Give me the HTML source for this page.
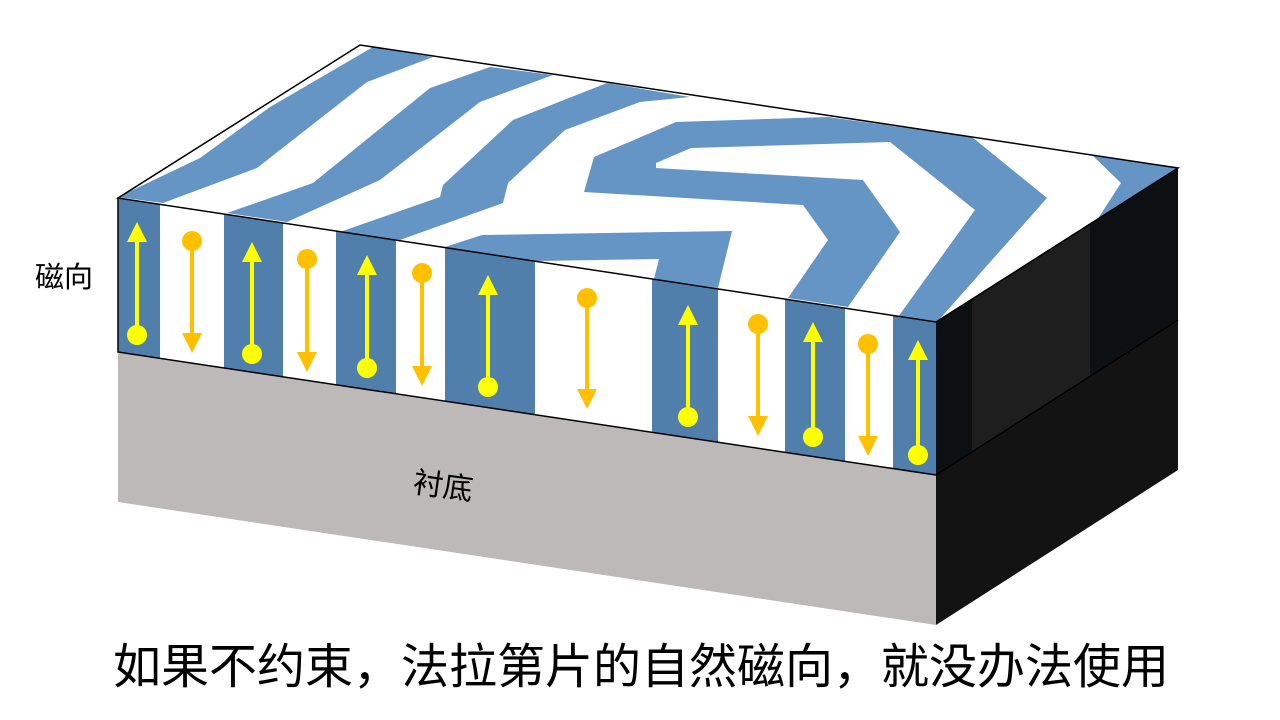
<!DOCTYPE html>
<html><head><meta charset="utf-8"><style>
html,body{margin:0;padding:0;background:#fff;width:1280px;height:720px;overflow:hidden}
svg{display:block}
text{font-family:"Liberation Sans","Noto Sans CJK SC",sans-serif;fill:#000}
</style></head><body>
<svg width="1280" height="720" viewBox="0 0 1280 720" xmlns="http://www.w3.org/2000/svg">
<defs>
<clipPath id="top"><polygon points="118,198 360,45 1178,168 936,322"/></clipPath>
<clipPath id="front"><polygon points="118,198 936,322 936,475 118,352"/></clipPath>
<clipPath id="rside"><polygon points="936,322 1178,168 1178,320 936,475"/></clipPath>
</defs>
<!-- substrate -->
<polygon points="118,352 936,475 936,625 118,502" fill="#bcb9b8"/>
<polygon points="936,475 1178,320 1178,470 936,625" fill="#131313"/>
<!-- right side of magnetic layer -->
<polygon points="936,322 1178,168 1178,320 936,475" fill="#0c1013"/>
<g clip-path="url(#rside)"><rect x="972" y="150" width="118" height="340" fill="#1e1e1e"/></g>
<line x1="936" y1="475" x2="1178" y2="320" stroke="#000" stroke-width="1.5"/>
<!-- top face -->
<polygon points="118,198 360,45 1178,168 936,322" fill="#fff"/>
<g clip-path="url(#top)" fill="#6595c4">
<polygon points="118,197 200,158 270,107 373,47 433,57 367,82 257,168 163,203"/>
<polygon points="490,67 430,88 313,183 227,213 287,222 380,180 480,102 553,75"/>
<polygon points="607,83 513,120 443,185 440,197 340,232 400,240 503,203 508,183 565,130 640,102 690,97"/>
<polygon points="584,192 594,157 676,122 828,117 972,137 1047,198 937,322 898,317 975,210 890,142 691,148 656,163 656,168 863,180 900,232 848,307 788,298 828,240 803,205"/>
<polygon points="445,247 482,235 732,231 718,288 654,279 659,259 537,261"/>
<polygon points="1092,155 1179,168 1097,220 1121,183"/>
</g>
<!-- front face -->
<polygon points="118,198 936,322 936,475 118,352" fill="#fff"/>
<g clip-path="url(#front)" fill="#517fab">
<rect x="118" y="190" width="42" height="300"/>
<rect x="224" y="190" width="59" height="300"/>
<rect x="336" y="190" width="60" height="300"/>
<rect x="445" y="190" width="90" height="300"/>
<rect x="652" y="190" width="66" height="300"/>
<rect x="785" y="190" width="60" height="300"/>
<rect x="893" y="190" width="43" height="300"/>
</g>
<!-- up arrows (yellow) -->
<g fill="#ffff00" stroke="#ffff00">
<line x1="137" y1="240" x2="137" y2="335" stroke-width="4"/><polygon points="137,222 127,242 147,242" stroke="none"/><circle cx="137" cy="335" r="10" stroke="none"/>
<line x1="252" y1="260" x2="252" y2="354" stroke-width="4"/><polygon points="252,242 242,262 262,262" stroke="none"/><circle cx="252" cy="354" r="10" stroke="none"/>
<line x1="367" y1="273" x2="367" y2="368" stroke-width="4"/><polygon points="367,255 357,275 377,275" stroke="none"/><circle cx="367" cy="368" r="10" stroke="none"/>
<line x1="488" y1="293" x2="488" y2="387" stroke-width="4"/><polygon points="488,275 478,295 498,295" stroke="none"/><circle cx="488" cy="387" r="10" stroke="none"/>
<line x1="688" y1="323" x2="688" y2="417" stroke-width="4"/><polygon points="688,305 678,325 698,325" stroke="none"/><circle cx="688" cy="417" r="10" stroke="none"/>
<line x1="813" y1="340" x2="813" y2="437" stroke-width="4"/><polygon points="813,322 803,342 823,342" stroke="none"/><circle cx="813" cy="437" r="10" stroke="none"/>
<line x1="918" y1="358" x2="918" y2="455" stroke-width="4"/><polygon points="918,340 908,360 928,360" stroke="none"/><circle cx="918" cy="455" r="10" stroke="none"/>
</g>
<!-- down arrows (orange) -->
<g fill="#ffc000" stroke="#ffc000">
<line x1="192" y1="241" x2="192" y2="335" stroke-width="4"/><circle cx="192" cy="241" r="10" stroke="none"/><polygon points="192,353 182,333 202,333" stroke="none"/>
<line x1="307" y1="259" x2="307" y2="354" stroke-width="4"/><circle cx="307" cy="259" r="10" stroke="none"/><polygon points="307,372 297,352 317,352" stroke="none"/>
<line x1="422" y1="273" x2="422" y2="368" stroke-width="4"/><circle cx="422" cy="273" r="10" stroke="none"/><polygon points="422,386 412,366 432,366" stroke="none"/>
<line x1="587" y1="298" x2="587" y2="391" stroke-width="4"/><circle cx="587" cy="298" r="10" stroke="none"/><polygon points="587,409 577,389 597,389" stroke="none"/>
<line x1="758" y1="324" x2="758" y2="418" stroke-width="4"/><circle cx="758" cy="324" r="10" stroke="none"/><polygon points="758,436 748,416 768,416" stroke="none"/>
<line x1="868" y1="344" x2="868" y2="438" stroke-width="4"/><circle cx="868" cy="344" r="10" stroke="none"/><polygon points="868,456 858,436 878,436" stroke="none"/>
</g>
<!-- outlines -->
<polygon points="118,198 360,45 1178,168 936,322" fill="none" stroke="#000" stroke-width="1.5"/>
<polyline points="118,198 118,352 936,475" fill="none" stroke="#000" stroke-width="1.5"/>
<!-- labels -->
<text x="35" y="287" font-size="29">磁向</text>
<text x="0" y="0" font-size="30" transform="translate(412,492) rotate(8)">衬底</text>
<text x="641" y="683" font-size="48" text-anchor="middle">如果不约束，法拉第片的自然磁向，就没办法使用</text>
</svg>
</body></html>
